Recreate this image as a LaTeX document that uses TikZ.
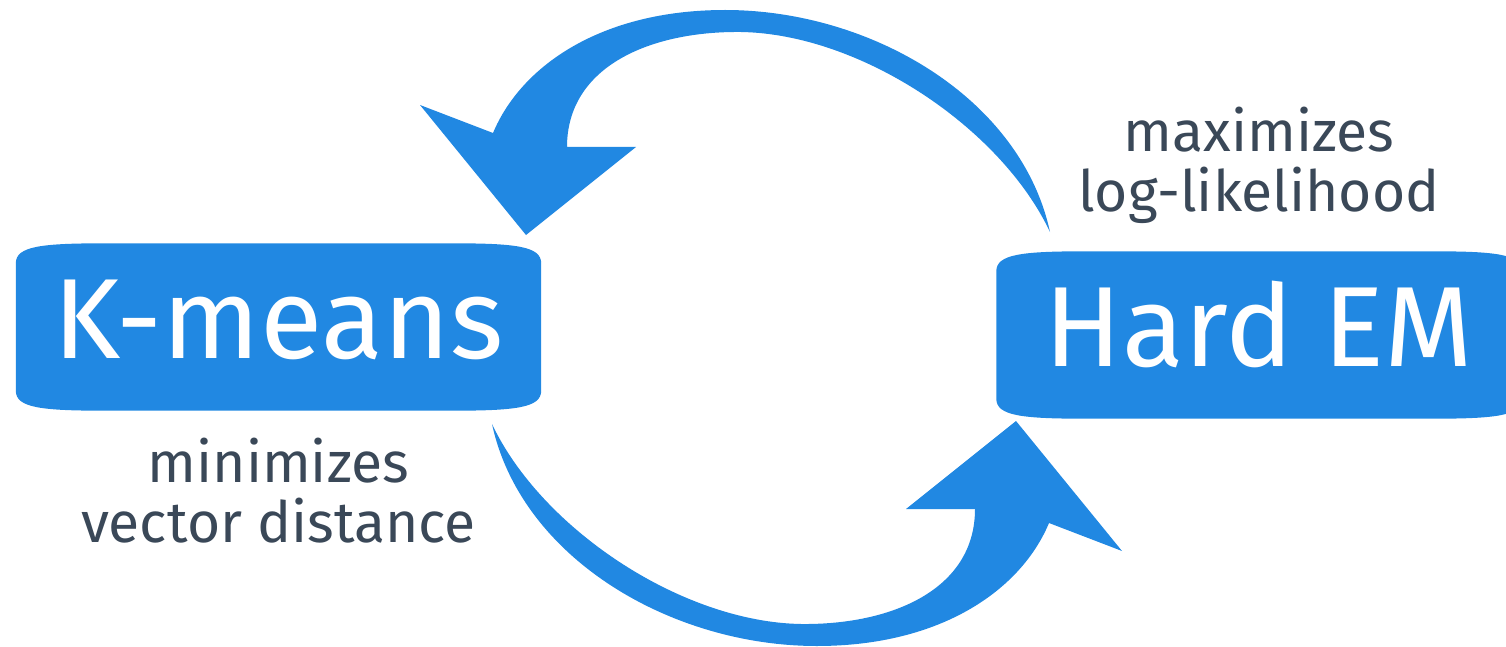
\documentclass[tikz,border=0pt]{standalone}
\usepackage{fontspec}
\setmainfont{Fira Sans}
\usetikzlibrary{calc, positioning, backgrounds}

\definecolor{loopblue}{RGB}{33,136,226}
\definecolor{notegray}{RGB}{58,72,88}

% box with soft, wide corners, drawn behind a named node
\newcommand{\pillowfill}[1]{%
  \fill[loopblue] ($(#1.north west)+(0,20)$) .. controls ($(#1.north west)+(0,3)$) and ($(#1.north west)+(25,0)$) .. ($(#1.north west)+(90,0)$)
    -- ($(#1.north east)+(-90,0)$) .. controls ($(#1.north east)+(-25,0)$) and ($(#1.north east)+(0,3)$) .. ($(#1.north east)+(0,20)$)
    -- ($(#1.south east)+(0,-20)$) .. controls ($(#1.south east)+(0,-3)$) and ($(#1.south east)+(-25,0)$) .. ($(#1.south east)+(-90,0)$)
    -- ($(#1.south west)+(90,0)$) .. controls ($(#1.south west)+(25,0)$) and ($(#1.south west)+(0,-3)$) .. ($(#1.south west)+(0,-20)$)
    -- cycle;}

\tikzset{
  blockbox/.style={minimum width=525pt, minimum height=167pt, inner sep=0pt, text=white,
    font=\fontsize{114}{114}\selectfont, text height=79pt, text depth=16pt},
  notetext/.style={align=center, inner sep=0pt, text=notegray,
    font=\fontsize{57}{60}\selectfont},
  looparrow/.pic={
    \fill[loopblue] (279,-96) .. controls (250,-230) and (100,-318) .. (-46,-318)
      .. controls (-170,-318) and (-250,-262) .. (-278,-195)
      -- (-351,-223) -- (-245,-93) -- (-135,-181) -- (-204,-181)
      .. controls (-204,-262) and (-120,-297) .. (-30,-296)
      .. controls (90,-294) and (230,-200) .. (279,-96)
      -- cycle;
  }
}

\begin{document}
\begin{tikzpicture}[x=1pt, y=-1pt]
  \useasboundingbox (0,0) rectangle (1506,647);
  \clip (0,0) rectangle (1506,647);

  % the two methods
  \node[blockbox] (km) at (278.5,327) {K-means};
  \node[blockbox] (hem) at (1259,335) {Hard EM};

  % what each one optimises
  \node[notetext, above=27pt of hem] (hemnote) {maximizes\\log-likelihood};
  \node[notetext, below=27pt of km] (kmnote) {minimizes\\vector distance};

  % the loop between them
  \coordinate (mid) at (771,328);
  \pic at (mid) {looparrow};
  \pic[rotate=180] at (mid) {looparrow};

  \begin{scope}[on background layer]
    \clip (0,0) rectangle (1506,647);
    \pillowfill{km}
    \pillowfill{hem}
  \end{scope}
\end{tikzpicture}
\end{document}
